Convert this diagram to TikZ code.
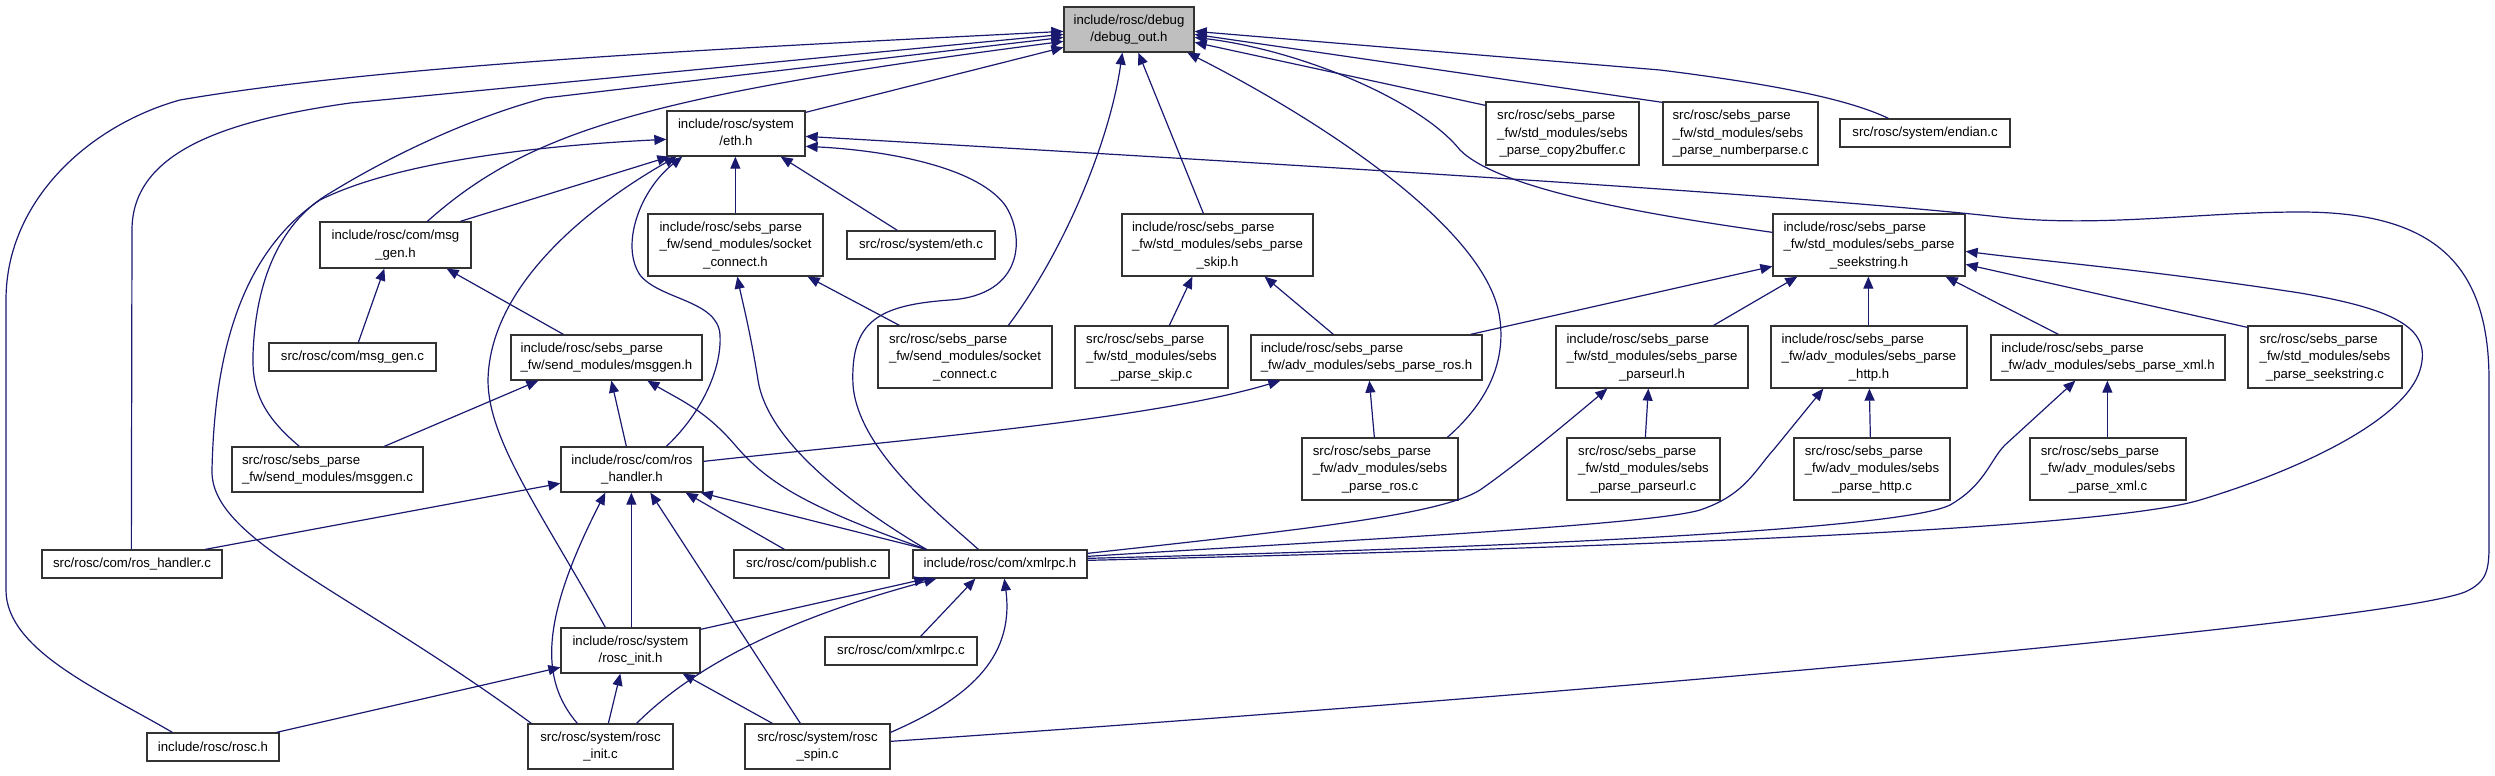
\documentclass[tikz,border=0pt]{standalone}
\usepackage{fontspec}
\setmainfont{Liberation Sans}
\usetikzlibrary{arrows.meta}
\definecolor{edgeblue}{HTML}{191970}
\definecolor{rootgray}{HTML}{BFBFBF}
\tikzset{
  gbox/.style={draw=black!80, line width=1.3pt, fill=white, rectangle, inner sep=0pt,
    font=\fontsize{13.2}{17.5}\selectfont},
  rootbox/.style={fill=rootgray},
  edge/.style={draw=edgeblue, line width=1.2pt, -{Triangle[length=12pt,width=10pt]}}
}
\newcommand{\gnode}[7][]{\node[gbox,#1, minimum width={(#5)-(#3)}, minimum height={(#6)-(#4)}] (#2) at ({((#3)+(#5))/2},{((#4)+(#6))/2}) {#7};}
\newcommand{\lbl}[2]{\begin{tabular}{@{}l@{}}#1\\\multicolumn{1}{@{}c@{}}{#2}\end{tabular}}
\begin{document}
\begin{tikzpicture}[x=1pt,y=-1pt]
\useasboundingbox (0,0) rectangle (2495,776);
% nodes
\gnode[rootbox]{debug}{1064}{7}{1194}{52}{\lbl{include/rosc/debug}{/debug\_out.h}}
\gnode{eth}{667}{111}{805}{156}{\lbl{include/rosc/system}{/eth.h}}
\gnode{comh}{320}{222}{471}{268}{\lbl{include/rosc/com/msg}{\_gen.h}}
\gnode{comc}{269}{343}{436}{371}{src/rosc/com/msg\_gen.c}
\gnode{sockh}{648}{214}{823}{276}{\lbl{include/rosc/sebs\_parse\\\_fw/send\_modules/socket}{\_connect.h}}
\gnode{smh}{511}{335}{702}{380}{\lbl{include/rosc/sebs\_parse}{\_fw/send\_modules/msggen.h}}
\gnode{smc}{232}{447}{423}{492}{\lbl{src/rosc/sebs\_parse}{\_fw/send\_modules/msggen.c}}
\gnode{rosh}{561}{447}{703}{492}{\lbl{include/rosc/com/ros}{\_handler.h}}
\gnode{rhc}{42}{550}{222}{578}{src/rosc/com/ros\_handler.c}
\gnode{pub}{734}{550}{889}{578}{src/rosc/com/publish.c}
\gnode{xrh}{913}{550}{1087}{578}{include/rosc/com/xmlrpc.h}
\gnode{inith}{561}{628}{700}{673}{\lbl{include/rosc/system}{/rosc\_init.h}}
\gnode{xrc}{825}{637}{977}{665}{src/rosc/com/xmlrpc.c}
\gnode{rosch}{147}{733}{279}{761}{include/rosc/rosc.h}
\gnode{initc}{528}{724}{673}{769}{\lbl{src/rosc/system/rosc}{\_init.c}}
\gnode{spinc}{745}{724}{890}{769}{\lbl{src/rosc/system/rosc}{\_spin.c}}
\gnode{copy}{1486}{102}{1639}{165}{\lbl{src/rosc/sebs\_parse\\\_fw/std\_modules/sebs}{\_parse\_copy2buffer.c}}
\gnode{nump}{1663}{102}{1818}{165}{\lbl{src/rosc/sebs\_parse\\\_fw/std\_modules/sebs}{\_parse\_numberparse.c}}
\gnode{endian}{1840}{119}{2010}{147}{src/rosc/system/endian.c}
\gnode{ethc}{847}{231}{995}{259}{src/rosc/system/eth.c}
\gnode{skiph}{1122}{214}{1313}{276}{\lbl{include/rosc/sebs\_parse\\\_fw/std\_modules/sebs\_parse}{\_skip.h}}
\gnode{sockc}{878}{326}{1052}{388}{\lbl{src/rosc/sebs\_parse\\\_fw/send\_modules/socket}{\_connect.c}}
\gnode{skipc}{1075}{326}{1228}{388}{\lbl{src/rosc/sebs\_parse\\\_fw/std\_modules/sebs}{\_parse\_skip.c}}
\gnode{rph}{1251}{335}{1482}{380}{\lbl{include/rosc/sebs\_parse}{\_fw/adv\_modules/sebs\_parse\_ros.h}}
\gnode{urlh}{1556}{326}{1748}{388}{\lbl{include/rosc/sebs\_parse\\\_fw/std\_modules/sebs\_parse}{\_parseurl.h}}
\gnode{seekh}{1773}{214}{1965}{276}{\lbl{include/rosc/sebs\_parse\\\_fw/std\_modules/sebs\_parse}{\_seekstring.h}}
\gnode{httph}{1771}{326}{1967}{388}{\lbl{include/rosc/sebs\_parse\\\_fw/adv\_modules/sebs\_parse}{\_http.h}}
\gnode{xmlh}{1991}{335}{2225}{380}{\lbl{include/rosc/sebs\_parse}{\_fw/adv\_modules/sebs\_parse\_xml.h}}
\gnode{seekc}{2248}{326}{2402}{388}{\lbl{src/rosc/sebs\_parse\\\_fw/std\_modules/sebs}{\_parse\_seekstring.c}}
\gnode{rpc}{1302}{438}{1458}{500}{\lbl{src/rosc/sebs\_parse\\\_fw/adv\_modules/sebs}{\_parse\_ros.c}}
\gnode{urlc}{1567}{438}{1720}{500}{\lbl{src/rosc/sebs\_parse\\\_fw/std\_modules/sebs}{\_parse\_parseurl.c}}
\gnode{httpc}{1794}{438}{1950}{500}{\lbl{src/rosc/sebs\_parse\\\_fw/adv\_modules/sebs}{\_parse\_http.c}}
\gnode{xmlc}{2030}{438}{2186}{500}{\lbl{src/rosc/sebs\_parse\\\_fw/adv\_modules/sebs}{\_parse\_xml.c}}
% edges into debug_out.h
\draw[edge] ([xshift=26pt]rosch.north west) .. controls (100,690) and (6,650) .. (6,590) -- (6,300) .. controls (6,200) and (90,125) .. (180,100) .. controls (400,62) and (800,45) .. ([yshift=-25pt]debug.north west);
\draw[edge] ([xshift=90pt]rhc.north west) -- (132,230) .. controls (132,150) and (230,120) .. (350,103) -- ([yshift=-28pt]debug.north west);
\draw[edge] ([xshift=68pt]smc.north west) .. controls (262,415) and (252,390) .. (253,355) .. controls (255,290) and (275,225) .. (330,193) .. controls (400,150) and (480,115) .. (545,98) -- ([yshift=-31pt]debug.north west);
\draw[edge] ([xshift=108pt]comh.north west) .. controls (530,130) and (650,95) .. ([yshift=-35pt]debug.north west);
\draw[edge] ([yshift=-2pt]eth.north east) -- ([yshift=-41pt]debug.north west);
\draw[edge] ([xshift=131pt]sockc.north west) .. controls (1065,250) and (1110,140) .. ([xshift=59pt]debug.south west);
\draw[edge] ([xshift=82pt]skiph.north west) -- ([xshift=75pt]debug.south west);
\draw[edge] ([xshift=146pt]rpc.north west) .. controls (1490,400) and (1505,360) .. (1500,320) .. controls (1490,230) and (1320,120) .. ([xshift=124pt]debug.south west);
\draw[edge] ([yshift=-19pt]seekh.north west) .. controls (1650,215) and (1500,190) .. (1460,150) .. controls (1420,100) and (1300,50) .. ([yshift=-31pt]debug.north east);
\draw[edge] ([yshift=-4pt]copy.north west) -- ([yshift=-36pt]debug.north east);
\draw[edge] ([yshift=-1pt]nump.north west) -- ([yshift=-28pt]debug.north east);
\draw[edge] ([xshift=49pt]endian.north west) .. controls (1850,100) and (1780,85) .. (1660,70) -- ([yshift=-25pt]debug.north east);
% edges into eth.h
\draw[edge] ([xshift=141pt]comh.north west) -- ([xshift=3pt]eth.south west);
\draw[edge] ([xshift=4pt]initc.north west) .. controls (350,590) and (210,540) .. (212,470) .. controls (214,380) and (230,260) .. (320,200) .. controls (400,160) and (550,145) .. ([yshift=-29pt]eth.north west);
\draw[edge] ([xshift=45pt]inith.north west) .. controls (540,510) and (488,440) .. (488,380) .. controls (490,280) and (600,200) .. ([xshift=10pt]eth.south west);
\draw[edge] ([xshift=106pt]rosh.north west) .. controls (700,415) and (722,370) .. (720,335) .. controls (718,300) and (660,300) .. (640,275) .. controls (620,245) and (640,190) .. ([xshift=16pt]eth.south west);
\draw[edge] ([xshift=88pt]sockh.north west) -- ([xshift=69pt]eth.south west);
\draw[edge] ([xshift=51pt]ethc.north west) -- ([xshift=-25pt]eth.south east);
\draw[edge] ([xshift=66pt]xrh.north west) .. controls (940,515) and (858,450) .. (853,385) .. controls (850,320) and (880,305) .. (950,300) .. controls (1025,295) and (1025,235) .. (1005,205) .. controls (975,165) and (880,150) .. ([yshift=-36pt]eth.north east);
\draw[edge] ([yshift=-18pt]spinc.north east) .. controls (1500,700) and (2380,625) .. (2465,592) .. controls (2487,582) and (2489,570) .. (2489,545) -- (2489,380) .. controls (2489,260) and (2430,212) .. (2300,212) .. controls (2200,212) and (2100,228) .. (2000,217) .. controls (1800,195) and (1300,165) .. ([yshift=-26pt]eth.north east);
% msg_gen.h
\draw[edge] ([xshift=90pt]comc.north west) -- ([xshift=65pt]comh.south west);
\draw[edge] ([xshift=53pt]smh.north west) -- ([xshift=-25pt]comh.south east);
% socket_connect.h
\draw[edge] ([xshift=22pt]sockc.north west) -- ([xshift=-16pt]sockh.south east);
\draw[edge] ([xshift=14pt]xrh.north west) .. controls (860,510) and (768,445) .. (758,380) .. controls (750,330) and (742,300) .. ([xshift=90pt]sockh.south west);
% send_modules/msggen.h
\draw[edge] ([xshift=153pt]smc.north west) -- ([xshift=28pt]smh.south west);
\draw[edge] ([xshift=66pt]rosh.north west) -- ([xshift=101pt]smh.south west);
\draw[edge] ([xshift=14pt]xrh.north west) .. controls (800,505) and (765,480) .. (735,445) .. controls (705,410) and (680,400) .. ([xshift=137pt]smh.south west);
% ros_handler.h
\draw[edge] ([xshift=164pt]rhc.north west) -- ([yshift=-37pt]rosh.north west);
\draw[edge] ([yshift=-15pt]rosh.north east) .. controls (900,440) and (1150,420) .. ([xshift=30pt]rph.south west);
\draw[edge] ([xshift=50pt]initc.north west) .. controls (540,680) and (540,620) .. ([xshift=45pt]rosh.south west);
\draw[edge] ([xshift=71pt]inith.north west) -- ([xshift=71pt]rosh.south west);
\draw[edge] ([xshift=56pt]spinc.north west) -- ([xshift=90pt]rosh.south west);
\draw[edge] ([xshift=51pt]pub.north west) -- ([xshift=-18pt]rosh.south east);
\draw[edge] ([xshift=14pt]xrh.north west) -- ([xshift=-3pt]rosh.south east);
% xmlrpc.h
\draw[edge] ([yshift=-2pt]inith.north east) -- ([xshift=14pt]xrh.south west);
\draw[edge] ([xshift=-37pt]initc.north east) .. controls (700,660) and (800,615) .. ([xshift=24pt]xrh.south west);
\draw[edge] ([xshift=-57pt]xrc.north east) -- ([xshift=63pt]xrh.south west);
\draw[edge] ([yshift=-9pt]spinc.north east) .. controls (965,700) and (1015,660) .. ([xshift=92pt]xrh.south west);
\draw[edge] ([yshift=-4pt]xrh.north east) .. controls (1300,530) and (1440,515) .. (1480,490) .. controls (1520,462) and (1570,420) .. ([xshift=52pt]urlh.south west);
\draw[edge] ([yshift=-7pt]xrh.north east) .. controls (1350,540) and (1650,525) .. (1700,510) .. controls (1745,495) and (1755,470) .. (1775,448) -- ([xshift=53pt]httph.south west);
\draw[edge] ([yshift=-9pt]xrh.north east) .. controls (1500,548) and (1900,530) .. (1950,505) .. controls (1985,485) and (1990,460) .. (2005,445) -- ([xshift=85pt]xmlh.south west);
\draw[edge] ([yshift=-11pt]xrh.north east) .. controls (1600,548) and (2100,530) .. (2200,500) .. controls (2300,470) and (2405,420) .. (2420,370) .. controls (2432,330) and (2400,310) .. (2300,293) .. controls (2150,270) and (2050,262) .. ([yshift=-38pt]seekh.north east);
% seekstring.h
\draw[edge] ([xshift=-12pt]rph.north east) -- ([yshift=-53pt]seekh.north west);
\draw[edge] ([xshift=-35pt]urlh.north east) -- ([xshift=25pt]seekh.south west);
\draw[edge] ([xshift=98pt]httph.north west) -- ([xshift=96pt]seekh.south west);
\draw[edge] ([xshift=68pt]xmlh.north west) -- ([xshift=-20pt]seekh.south east);
\draw[edge] ([yshift=-2pt]seekc.north west) -- ([yshift=-51pt]seekh.north east);
% skip.h
\draw[edge] ([xshift=95pt]skipc.north west) -- ([xshift=71pt]skiph.south west);
\draw[edge] ([xshift=83pt]rph.north west) -- ([xshift=-49pt]skiph.south east);
% leaves
\draw[edge] ([xshift=73pt]rpc.north west) -- ([xshift=119pt]rph.south west);
\draw[edge] ([xshift=79pt]urlc.north west) -- ([xshift=93pt]urlh.south west);
\draw[edge] ([xshift=77pt]httpc.north west) -- ([xshift=99pt]httph.south west);
\draw[edge] ([xshift=78pt]xmlc.north west) -- ([xshift=117pt]xmlh.south west);
% rosc_init.h
\draw[edge] ([xshift=-3pt]rosch.north east) -- ([yshift=-40pt]inith.north west);
\draw[edge] ([xshift=81pt]initc.north west) -- ([xshift=60pt]inith.south west);
\draw[edge] ([xshift=28pt]spinc.north west) -- ([xshift=-18pt]inith.south east);
\end{tikzpicture}
\end{document}
